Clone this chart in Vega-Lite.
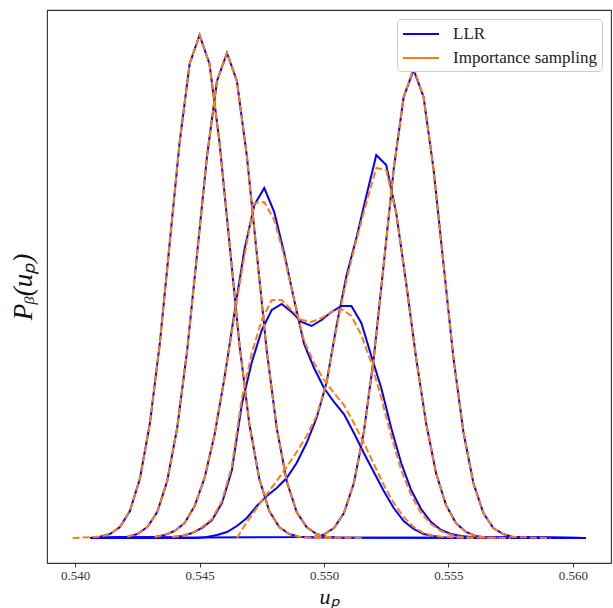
{
"$schema": "https://vega.github.io/schema/vega-lite/v6.json",
"autosize": "none",
"width": 564, "height": 553,
"padding": {"left": 47, "top": 10, "right": 2, "bottom": 45},
"background": "white",
"config": {"view": {"stroke": "#333", "strokeWidth": 1.1}},
"data": {"values": [
{"c":1,"s":"LLR","x":0.5406,"y":0},{"c":1,"s":"LLR","x":0.5410,"y":1.3},{"c":1,"s":"LLR","x":0.5414,"y":4},{"c":1,"s":"LLR","x":0.5418,"y":11},{"c":1,"s":"LLR","x":0.5422,"y":27},{"c":1,"s":"LLR","x":0.5426,"y":59},{"c":1,"s":"LLR","x":0.5430,"y":114},{"c":1,"s":"LLR","x":0.5434,"y":194},{"c":1,"s":"LLR","x":0.5438,"y":295},{"c":1,"s":"LLR","x":0.5442,"y":396},{"c":1,"s":"LLR","x":0.5446,"y":474},{"c":1,"s":"LLR","x":0.5450,"y":503},{"c":1,"s":"LLR","x":0.5454,"y":474},{"c":1,"s":"LLR","x":0.5458,"y":396},{"c":1,"s":"LLR","x":0.5462,"y":295},{"c":1,"s":"LLR","x":0.5466,"y":194},{"c":1,"s":"LLR","x":0.5470,"y":114},{"c":1,"s":"LLR","x":0.5474,"y":59},{"c":1,"s":"LLR","x":0.5478,"y":27},{"c":1,"s":"LLR","x":0.5482,"y":11},{"c":1,"s":"LLR","x":0.5486,"y":4},{"c":1,"s":"LLR","x":0.5490,"y":1.3},{"c":1,"s":"LLR","x":0.5494,"y":0.4},{"c":1,"s":"LLR","x":0.5605,"y":0},
{"c":2,"s":"LLR","x":0.5406,"y":0},{"c":2,"s":"LLR","x":0.5421,"y":1.3},{"c":2,"s":"LLR","x":0.5425,"y":4},{"c":2,"s":"LLR","x":0.5429,"y":11},{"c":2,"s":"LLR","x":0.5433,"y":26},{"c":2,"s":"LLR","x":0.5437,"y":57},{"c":2,"s":"LLR","x":0.5441,"y":110},{"c":2,"s":"LLR","x":0.5445,"y":187},{"c":2,"s":"LLR","x":0.5449,"y":284},{"c":2,"s":"LLR","x":0.5453,"y":382},{"c":2,"s":"LLR","x":0.5457,"y":457},{"c":2,"s":"LLR","x":0.5461,"y":485},{"c":2,"s":"LLR","x":0.5465,"y":457},{"c":2,"s":"LLR","x":0.5469,"y":382},{"c":2,"s":"LLR","x":0.5473,"y":284},{"c":2,"s":"LLR","x":0.5477,"y":187},{"c":2,"s":"LLR","x":0.5481,"y":110},{"c":2,"s":"LLR","x":0.5485,"y":57},{"c":2,"s":"LLR","x":0.5489,"y":26},{"c":2,"s":"LLR","x":0.5493,"y":11},{"c":2,"s":"LLR","x":0.5497,"y":4},{"c":2,"s":"LLR","x":0.5501,"y":1.3},{"c":2,"s":"LLR","x":0.5505,"y":0.4},{"c":2,"s":"LLR","x":0.5605,"y":0},
{"c":3,"s":"LLR","x":0.5406,"y":0},{"c":3,"s":"LLR","x":0.5432,"y":1},{"c":3,"s":"LLR","x":0.5436,"y":3},{"c":3,"s":"LLR","x":0.5440,"y":7},{"c":3,"s":"LLR","x":0.5444,"y":15},{"c":3,"s":"LLR","x":0.5448,"y":32},{"c":3,"s":"LLR","x":0.5452,"y":60},{"c":3,"s":"LLR","x":0.5456,"y":103},{"c":3,"s":"LLR","x":0.5460,"y":160},{"c":3,"s":"LLR","x":0.5464,"y":225},{"c":3,"s":"LLR","x":0.5468,"y":288},{"c":3,"s":"LLR","x":0.5472,"y":333},{"c":3,"s":"LLR","x":0.5476,"y":350},{"c":3,"s":"LLR","x":0.5480,"y":326},{"c":3,"s":"LLR","x":0.5484,"y":285},{"c":3,"s":"LLR","x":0.5488,"y":238},{"c":3,"s":"LLR","x":0.5492,"y":194},{"c":3,"s":"LLR","x":0.5496,"y":170},{"c":3,"s":"LLR","x":0.5500,"y":150},{"c":3,"s":"LLR","x":0.5504,"y":136},{"c":3,"s":"LLR","x":0.5508,"y":124},{"c":3,"s":"LLR","x":0.5512,"y":105},{"c":3,"s":"LLR","x":0.5516,"y":85},{"c":3,"s":"LLR","x":0.5520,"y":66},{"c":3,"s":"LLR","x":0.5524,"y":47},{"c":3,"s":"LLR","x":0.5528,"y":30},{"c":3,"s":"LLR","x":0.5532,"y":17},{"c":3,"s":"LLR","x":0.5536,"y":9},{"c":3,"s":"LLR","x":0.5540,"y":4},{"c":3,"s":"LLR","x":0.5544,"y":2},{"c":3,"s":"LLR","x":0.5548,"y":0.5},{"c":3,"s":"LLR","x":0.5605,"y":0},
{"c":4,"s":"LLR","x":0.5406,"y":0},{"c":4,"s":"LLR","x":0.5439,"y":1},{"c":4,"s":"LLR","x":0.5443,"y":2},{"c":4,"s":"LLR","x":0.5447,"y":5},{"c":4,"s":"LLR","x":0.5451,"y":10},{"c":4,"s":"LLR","x":0.5455,"y":18},{"c":4,"s":"LLR","x":0.5459,"y":35},{"c":4,"s":"LLR","x":0.5463,"y":68},{"c":4,"s":"LLR","x":0.5467,"y":134},{"c":4,"s":"LLR","x":0.5471,"y":176},{"c":4,"s":"LLR","x":0.5475,"y":208},{"c":4,"s":"LLR","x":0.5479,"y":228},{"c":4,"s":"LLR","x":0.5483,"y":234},{"c":4,"s":"LLR","x":0.5487,"y":226},{"c":4,"s":"LLR","x":0.5491,"y":216},{"c":4,"s":"LLR","x":0.5495,"y":212},{"c":4,"s":"LLR","x":0.5499,"y":218},{"c":4,"s":"LLR","x":0.5503,"y":226},{"c":4,"s":"LLR","x":0.5507,"y":232},{"c":4,"s":"LLR","x":0.5511,"y":232},{"c":4,"s":"LLR","x":0.5515,"y":215},{"c":4,"s":"LLR","x":0.5519,"y":182},{"c":4,"s":"LLR","x":0.5523,"y":150},{"c":4,"s":"LLR","x":0.5527,"y":110},{"c":4,"s":"LLR","x":0.5531,"y":75},{"c":4,"s":"LLR","x":0.5535,"y":48},{"c":4,"s":"LLR","x":0.5539,"y":29},{"c":4,"s":"LLR","x":0.5543,"y":16},{"c":4,"s":"LLR","x":0.5547,"y":8},{"c":4,"s":"LLR","x":0.5551,"y":4},{"c":4,"s":"LLR","x":0.5555,"y":2},{"c":4,"s":"LLR","x":0.5559,"y":1},{"c":4,"s":"LLR","x":0.5605,"y":0},
{"c":5,"s":"LLR","x":0.5406,"y":0},{"c":5,"s":"LLR","x":0.5449,"y":0},{"c":5,"s":"LLR","x":0.5453,"y":1},{"c":5,"s":"LLR","x":0.5457,"y":3},{"c":5,"s":"LLR","x":0.5461,"y":6},{"c":5,"s":"LLR","x":0.5465,"y":12},{"c":5,"s":"LLR","x":0.5469,"y":20},{"c":5,"s":"LLR","x":0.5473,"y":32},{"c":5,"s":"LLR","x":0.5477,"y":42},{"c":5,"s":"LLR","x":0.5481,"y":50},{"c":5,"s":"LLR","x":0.5485,"y":60},{"c":5,"s":"LLR","x":0.5489,"y":75},{"c":5,"s":"LLR","x":0.5493,"y":95},{"c":5,"s":"LLR","x":0.5497,"y":120},{"c":5,"s":"LLR","x":0.5501,"y":155},{"c":5,"s":"LLR","x":0.5505,"y":212},{"c":5,"s":"LLR","x":0.5509,"y":262},{"c":5,"s":"LLR","x":0.5513,"y":300},{"c":5,"s":"LLR","x":0.5517,"y":342},{"c":5,"s":"LLR","x":0.5521,"y":383},{"c":5,"s":"LLR","x":0.5525,"y":373},{"c":5,"s":"LLR","x":0.5529,"y":325},{"c":5,"s":"LLR","x":0.5533,"y":255},{"c":5,"s":"LLR","x":0.5537,"y":180},{"c":5,"s":"LLR","x":0.5541,"y":115},{"c":5,"s":"LLR","x":0.5545,"y":65},{"c":5,"s":"LLR","x":0.5549,"y":33},{"c":5,"s":"LLR","x":0.5553,"y":15},{"c":5,"s":"LLR","x":0.5557,"y":6},{"c":5,"s":"LLR","x":0.5561,"y":2},{"c":5,"s":"LLR","x":0.5565,"y":0.5},{"c":5,"s":"LLR","x":0.5605,"y":0},
{"c":6,"s":"LLR","x":0.5406,"y":0},{"c":6,"s":"LLR","x":0.5496,"y":1},{"c":6,"s":"LLR","x":0.5500,"y":3.6},{"c":6,"s":"LLR","x":0.5504,"y":10},{"c":6,"s":"LLR","x":0.5508,"y":25},{"c":6,"s":"LLR","x":0.5512,"y":55},{"c":6,"s":"LLR","x":0.5516,"y":106},{"c":6,"s":"LLR","x":0.5520,"y":180},{"c":6,"s":"LLR","x":0.5524,"y":274},{"c":6,"s":"LLR","x":0.5528,"y":369},{"c":6,"s":"LLR","x":0.5532,"y":441},{"c":6,"s":"LLR","x":0.5536,"y":468},{"c":6,"s":"LLR","x":0.5540,"y":441},{"c":6,"s":"LLR","x":0.5544,"y":369},{"c":6,"s":"LLR","x":0.5548,"y":274},{"c":6,"s":"LLR","x":0.5552,"y":180},{"c":6,"s":"LLR","x":0.5556,"y":106},{"c":6,"s":"LLR","x":0.5560,"y":55},{"c":6,"s":"LLR","x":0.5564,"y":25},{"c":6,"s":"LLR","x":0.5568,"y":10},{"c":6,"s":"LLR","x":0.5572,"y":4},{"c":6,"s":"LLR","x":0.5576,"y":1},{"c":6,"s":"LLR","x":0.5605,"y":0},
{"c":1,"s":"Importance sampling","x":0.5399,"y":0},{"c":1,"s":"Importance sampling","x":0.5410,"y":1.3},{"c":1,"s":"Importance sampling","x":0.5414,"y":4},{"c":1,"s":"Importance sampling","x":0.5418,"y":11},{"c":1,"s":"Importance sampling","x":0.5422,"y":27},{"c":1,"s":"Importance sampling","x":0.5426,"y":59},{"c":1,"s":"Importance sampling","x":0.5430,"y":114},{"c":1,"s":"Importance sampling","x":0.5434,"y":194},{"c":1,"s":"Importance sampling","x":0.5438,"y":295},{"c":1,"s":"Importance sampling","x":0.5442,"y":396},{"c":1,"s":"Importance sampling","x":0.5446,"y":474},{"c":1,"s":"Importance sampling","x":0.5450,"y":503},{"c":1,"s":"Importance sampling","x":0.5454,"y":474},{"c":1,"s":"Importance sampling","x":0.5458,"y":396},{"c":1,"s":"Importance sampling","x":0.5462,"y":295},{"c":1,"s":"Importance sampling","x":0.5466,"y":194},{"c":1,"s":"Importance sampling","x":0.5470,"y":114},{"c":1,"s":"Importance sampling","x":0.5474,"y":59},{"c":1,"s":"Importance sampling","x":0.5478,"y":27},{"c":1,"s":"Importance sampling","x":0.5482,"y":11},{"c":1,"s":"Importance sampling","x":0.5486,"y":4},{"c":1,"s":"Importance sampling","x":0.5490,"y":1.3},{"c":1,"s":"Importance sampling","x":0.5494,"y":0.4},{"c":1,"s":"Importance sampling","x":0.5505,"y":0},
{"c":2,"s":"Importance sampling","x":0.5421,"y":1.3},{"c":2,"s":"Importance sampling","x":0.5425,"y":4},{"c":2,"s":"Importance sampling","x":0.5429,"y":11},{"c":2,"s":"Importance sampling","x":0.5433,"y":26},{"c":2,"s":"Importance sampling","x":0.5437,"y":57},{"c":2,"s":"Importance sampling","x":0.5441,"y":110},{"c":2,"s":"Importance sampling","x":0.5445,"y":187},{"c":2,"s":"Importance sampling","x":0.5449,"y":284},{"c":2,"s":"Importance sampling","x":0.5453,"y":382},{"c":2,"s":"Importance sampling","x":0.5457,"y":457},{"c":2,"s":"Importance sampling","x":0.5461,"y":485},{"c":2,"s":"Importance sampling","x":0.5465,"y":457},{"c":2,"s":"Importance sampling","x":0.5469,"y":382},{"c":2,"s":"Importance sampling","x":0.5473,"y":284},{"c":2,"s":"Importance sampling","x":0.5477,"y":187},{"c":2,"s":"Importance sampling","x":0.5481,"y":110},{"c":2,"s":"Importance sampling","x":0.5485,"y":57},{"c":2,"s":"Importance sampling","x":0.5489,"y":26},{"c":2,"s":"Importance sampling","x":0.5493,"y":11},{"c":2,"s":"Importance sampling","x":0.5497,"y":4},{"c":2,"s":"Importance sampling","x":0.5501,"y":1.3},{"c":2,"s":"Importance sampling","x":0.5505,"y":0.4},{"c":2,"s":"Importance sampling","x":0.5516,"y":0},
{"c":3,"s":"Importance sampling","x":0.5432,"y":1},{"c":3,"s":"Importance sampling","x":0.5436,"y":3},{"c":3,"s":"Importance sampling","x":0.5440,"y":7},{"c":3,"s":"Importance sampling","x":0.5444,"y":15},{"c":3,"s":"Importance sampling","x":0.5448,"y":32},{"c":3,"s":"Importance sampling","x":0.5452,"y":60},{"c":3,"s":"Importance sampling","x":0.5456,"y":103},{"c":3,"s":"Importance sampling","x":0.5460,"y":160},{"c":3,"s":"Importance sampling","x":0.5464,"y":222},{"c":3,"s":"Importance sampling","x":0.5468,"y":282},{"c":3,"s":"Importance sampling","x":0.5472,"y":335},{"c":3,"s":"Importance sampling","x":0.5476,"y":336},{"c":3,"s":"Importance sampling","x":0.5480,"y":318},{"c":3,"s":"Importance sampling","x":0.5484,"y":282},{"c":3,"s":"Importance sampling","x":0.5488,"y":238},{"c":3,"s":"Importance sampling","x":0.5492,"y":197},{"c":3,"s":"Importance sampling","x":0.5496,"y":175},{"c":3,"s":"Importance sampling","x":0.5500,"y":158},{"c":3,"s":"Importance sampling","x":0.5504,"y":145},{"c":3,"s":"Importance sampling","x":0.5508,"y":133},{"c":3,"s":"Importance sampling","x":0.5512,"y":115},{"c":3,"s":"Importance sampling","x":0.5516,"y":95},{"c":3,"s":"Importance sampling","x":0.5520,"y":74},{"c":3,"s":"Importance sampling","x":0.5524,"y":53},{"c":3,"s":"Importance sampling","x":0.5528,"y":35},{"c":3,"s":"Importance sampling","x":0.5532,"y":21},{"c":3,"s":"Importance sampling","x":0.5536,"y":11},{"c":3,"s":"Importance sampling","x":0.5540,"y":5},{"c":3,"s":"Importance sampling","x":0.5544,"y":2},{"c":3,"s":"Importance sampling","x":0.5548,"y":1},{"c":3,"s":"Importance sampling","x":0.5560,"y":0},
{"c":4,"s":"Importance sampling","x":0.5439,"y":1},{"c":4,"s":"Importance sampling","x":0.5443,"y":2},{"c":4,"s":"Importance sampling","x":0.5447,"y":5},{"c":4,"s":"Importance sampling","x":0.5451,"y":11},{"c":4,"s":"Importance sampling","x":0.5455,"y":19},{"c":4,"s":"Importance sampling","x":0.5459,"y":37},{"c":4,"s":"Importance sampling","x":0.5463,"y":72},{"c":4,"s":"Importance sampling","x":0.5467,"y":140},{"c":4,"s":"Importance sampling","x":0.5471,"y":185},{"c":4,"s":"Importance sampling","x":0.5475,"y":218},{"c":4,"s":"Importance sampling","x":0.5479,"y":238},{"c":4,"s":"Importance sampling","x":0.5483,"y":238},{"c":4,"s":"Importance sampling","x":0.5487,"y":228},{"c":4,"s":"Importance sampling","x":0.5491,"y":218},{"c":4,"s":"Importance sampling","x":0.5495,"y":216},{"c":4,"s":"Importance sampling","x":0.5499,"y":220},{"c":4,"s":"Importance sampling","x":0.5503,"y":226},{"c":4,"s":"Importance sampling","x":0.5507,"y":229},{"c":4,"s":"Importance sampling","x":0.5511,"y":222},{"c":4,"s":"Importance sampling","x":0.5515,"y":203},{"c":4,"s":"Importance sampling","x":0.5519,"y":175},{"c":4,"s":"Importance sampling","x":0.5523,"y":140},{"c":4,"s":"Importance sampling","x":0.5527,"y":102},{"c":4,"s":"Importance sampling","x":0.5531,"y":68},{"c":4,"s":"Importance sampling","x":0.5535,"y":43},{"c":4,"s":"Importance sampling","x":0.5539,"y":25},{"c":4,"s":"Importance sampling","x":0.5543,"y":14},{"c":4,"s":"Importance sampling","x":0.5547,"y":7},{"c":4,"s":"Importance sampling","x":0.5551,"y":3},{"c":4,"s":"Importance sampling","x":0.5555,"y":1},{"c":4,"s":"Importance sampling","x":0.5559,"y":0.5},{"c":4,"s":"Importance sampling","x":0.5570,"y":0},
{"c":5,"s":"Importance sampling","x":0.5465,"y":0},{"c":5,"s":"Importance sampling","x":0.5469,"y":16},{"c":5,"s":"Importance sampling","x":0.5473,"y":30},{"c":5,"s":"Importance sampling","x":0.5477,"y":44},{"c":5,"s":"Importance sampling","x":0.5481,"y":57},{"c":5,"s":"Importance sampling","x":0.5485,"y":71},{"c":5,"s":"Importance sampling","x":0.5489,"y":86},{"c":5,"s":"Importance sampling","x":0.5493,"y":102},{"c":5,"s":"Importance sampling","x":0.5497,"y":122},{"c":5,"s":"Importance sampling","x":0.5501,"y":155},{"c":5,"s":"Importance sampling","x":0.5505,"y":210},{"c":5,"s":"Importance sampling","x":0.5509,"y":258},{"c":5,"s":"Importance sampling","x":0.5513,"y":298},{"c":5,"s":"Importance sampling","x":0.5517,"y":335},{"c":5,"s":"Importance sampling","x":0.5521,"y":370},{"c":5,"s":"Importance sampling","x":0.5525,"y":368},{"c":5,"s":"Importance sampling","x":0.5529,"y":325},{"c":5,"s":"Importance sampling","x":0.5533,"y":255},{"c":5,"s":"Importance sampling","x":0.5537,"y":180},{"c":5,"s":"Importance sampling","x":0.5541,"y":115},{"c":5,"s":"Importance sampling","x":0.5545,"y":65},{"c":5,"s":"Importance sampling","x":0.5549,"y":33},{"c":5,"s":"Importance sampling","x":0.5553,"y":15},{"c":5,"s":"Importance sampling","x":0.5557,"y":6},{"c":5,"s":"Importance sampling","x":0.5561,"y":2},{"c":5,"s":"Importance sampling","x":0.5565,"y":0.5},{"c":5,"s":"Importance sampling","x":0.5575,"y":0},
{"c":6,"s":"Importance sampling","x":0.5496,"y":1},{"c":6,"s":"Importance sampling","x":0.5500,"y":3.6},{"c":6,"s":"Importance sampling","x":0.5504,"y":10},{"c":6,"s":"Importance sampling","x":0.5508,"y":25},{"c":6,"s":"Importance sampling","x":0.5512,"y":55},{"c":6,"s":"Importance sampling","x":0.5516,"y":106},{"c":6,"s":"Importance sampling","x":0.5520,"y":180},{"c":6,"s":"Importance sampling","x":0.5524,"y":274},{"c":6,"s":"Importance sampling","x":0.5528,"y":369},{"c":6,"s":"Importance sampling","x":0.5532,"y":441},{"c":6,"s":"Importance sampling","x":0.5536,"y":470},{"c":6,"s":"Importance sampling","x":0.5540,"y":441},{"c":6,"s":"Importance sampling","x":0.5544,"y":369},{"c":6,"s":"Importance sampling","x":0.5548,"y":274},{"c":6,"s":"Importance sampling","x":0.5552,"y":180},{"c":6,"s":"Importance sampling","x":0.5556,"y":106},{"c":6,"s":"Importance sampling","x":0.5560,"y":55},{"c":6,"s":"Importance sampling","x":0.5564,"y":25},{"c":6,"s":"Importance sampling","x":0.5568,"y":10},{"c":6,"s":"Importance sampling","x":0.5572,"y":4},{"c":6,"s":"Importance sampling","x":0.5576,"y":1},{"c":6,"s":"Importance sampling","x":0.5591,"y":0}
]},
"encoding": {
  "x": {"field": "x", "type": "quantitative",
        "scale": {"domain": [0.53887, 0.56153], "nice": false, "zero": false},
        "axis": {"values": [0.54, 0.545, 0.55, 0.555, 0.56], "format": ".3f", "grid": false, "domain": false,
                 "ticks": true, "tickSize": 4, "tickColor": "#333", "tickWidth": 1,
                 "labelFont": "Liberation Serif", "labelFontSize": 13, "labelColor": "#333", "labelPadding": 2,
                 "title": "uₚ", "titleFont": "Liberation Serif", "titleFontStyle": "italic", "titleFontWeight": "normal",
                 "titleFontSize": 22, "titleColor": "#111", "titleBaseline": "alphabetic", "titleY": 40}},
  "y": {"field": "y", "type": "quantitative",
        "scale": {"domain": [-25, 528], "nice": false, "zero": false},
        "axis": {"labels": false, "ticks": false, "domain": false, "grid": false,
                 "title": "Pᵦ(uₚ)", "titleFont": "Liberation Serif", "titleFontStyle": "italic", "titleFontWeight": "normal",
                 "titleFontSize": 27, "titleColor": "#111", "titlePadding": 10}},
  "color": {"field": "s", "type": "nominal",
            "scale": {"domain": ["LLR", "Importance sampling"], "range": ["#0000ff", "#ff7f0e"]},
            "legend": {"orient": "none", "legendX": 350, "legendY": 9, "title": null,
                       "symbolType": "M-1,0H3", "symbolSize": 324, "symbolStrokeWidth": 2, "symbolDash": [1, 0],
                       "labelFont": "Liberation Serif", "labelFontSize": 17, "labelColor": "#222",
                       "labelOffset": 31, "rowPadding": 6, "padding": 5,
                       "strokeColor": "#ccc", "fillColor": "white", "cornerRadius": 4}},
  "detail": {"field": "c", "type": "nominal"}
},
"layer": [
  {"transform": [{"filter": "datum.s === 'LLR'"}], "mark": {"type": "line", "strokeWidth": 2}},
  {"transform": [{"filter": "datum.s === 'Importance sampling'"}], "mark": {"type": "line", "strokeWidth": 2, "strokeDash": [7, 3]}}
]
}
